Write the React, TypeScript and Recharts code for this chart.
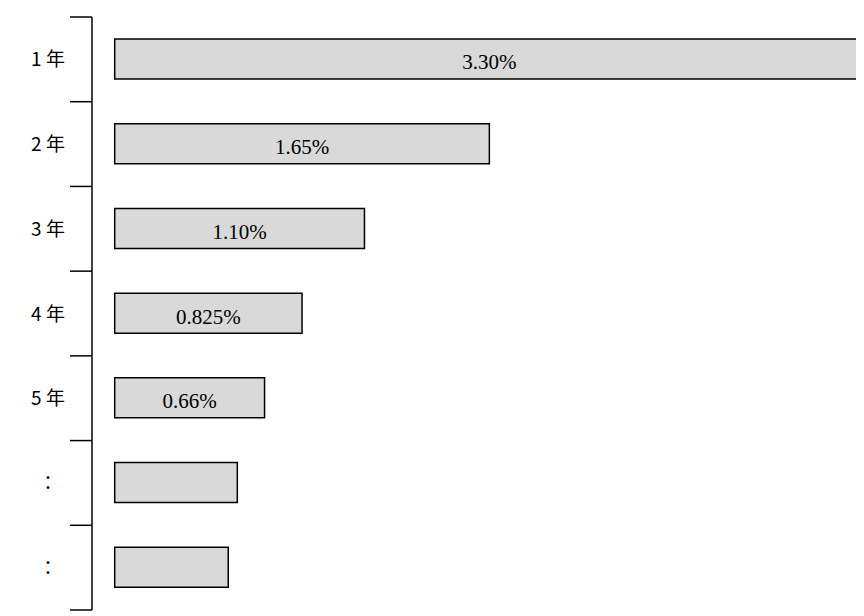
import { BarChart, Bar, XAxis, YAxis, LabelList } from "recharts";

const categories = ["1 年", "2 年", "3 年", "4 年", "5 年", "：", "："];
const rates = [3.3, 1.65, 1.1, 0.825, 0.66, 0.54, 0.5];
const rateLabels = ["3.30%", "1.65%", "1.10%", "0.825%", "0.66%", "", ""];

const data = categories.map((name, i) => ({ name, rate: rates[i], label: rateLabels[i] }));

const TOP = 17;
const BOTTOM = 610;
const band = (BOTTOM - TOP) / categories.length;

function Tick(props: any) {
  const { y, index } = props;
  const top = y - band / 2;
  return (
    <g>
      <line x1={70} x2={92} y1={top} y2={top} stroke="#000" strokeWidth={1.5} />
      {index === categories.length - 1 && (
        <line x1={70} x2={92} y1={top + band} y2={top + band} stroke="#000" strokeWidth={1.5} />
      )}
      <text x={48} y={y} dy={7} textAnchor="middle" fontSize={19} fontFamily="'Noto Sans CJK JP', sans-serif" fill="#000">
        {props.payload.value}
      </text>
    </g>
  );
}

export default function App() {
  return (
    <div style={{ margin: "-8px 0 0 -8px" }}>
      <BarChart
        width={864}
        height={616}
        data={data}
        layout="vertical"
        margin={{ top: TOP, bottom: 616 - BOTTOM, left: 0, right: 0 }}
        barSize={40}
      >
        <XAxis type="number" domain={[-0.1, 3.3]} allowDataOverflow hide />
        <YAxis
          type="category"
          dataKey="name"
          width={92}
          axisLine={{ stroke: "#000", strokeWidth: 1.5 }}
          tickLine={false}
          tick={<Tick />}
          interval={0}
        />
        <Bar dataKey="rate" fill="#d9d9d9" stroke="#000" strokeWidth={1.5} isAnimationActive={false}>
          <LabelList
            dataKey="label"
            position="center"
            dy={3}
            fill="#000"
            fontSize={21}
            fontFamily="'Liberation Serif', serif"
          />
        </Bar>
      </BarChart>
    </div>
  );
}
